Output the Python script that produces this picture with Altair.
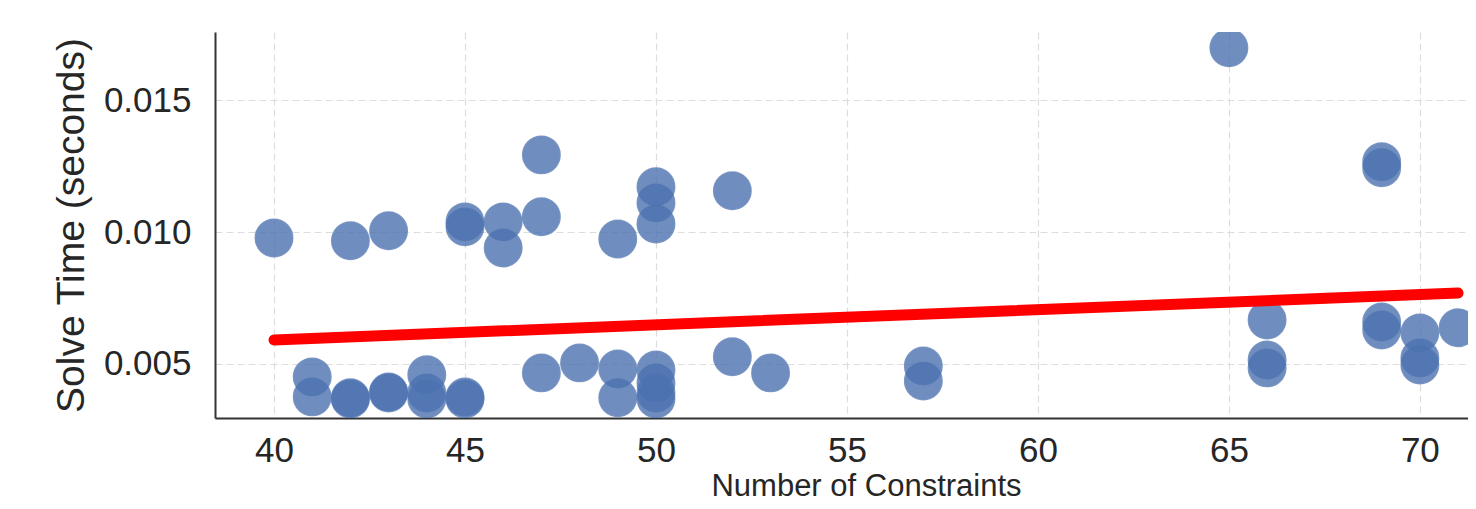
import altair as alt
import pandas as pd

# Scatter data (Number of Constraints, Solve Time in seconds)
constraints = [40, 41, 41, 42, 42, 42, 43, 43, 43, 44, 44, 44, 45, 45, 45, 45,
               46, 46, 47, 47, 47, 48, 49, 49, 49, 50, 50, 50, 50, 50, 50, 50,
               52, 52, 53, 57, 57, 65, 66, 66, 66, 69, 69, 69, 69, 70, 70, 70, 71]
solve_time = [0.00978, 0.00451, 0.00375, 0.00967, 0.00372, 0.00367, 0.01005, 0.00394, 0.00390,
              0.00459, 0.00390, 0.00367, 0.01039, 0.01020, 0.00375, 0.00367,
              0.01039, 0.00940, 0.01293, 0.01058, 0.00466, 0.00504, 0.00974, 0.00481, 0.00372,
              0.01172, 0.01111, 0.01031, 0.00477, 0.00428, 0.00390, 0.00367,
              0.01157, 0.00527, 0.00466, 0.00492, 0.00435, 0.01699, 0.00667, 0.00515, 0.00485,
              0.01267, 0.01244, 0.00659, 0.00629, 0.00618, 0.00523, 0.00496, 0.00637]

# Regression line endpoints
fit_x = [40, 71]
fit_y = [0.00591, 0.00769]

x_ticks = [40, 45, 50, 55, 60, 65, 70]
y_ticks = [0.005, 0.010, 0.015]

pts = pd.DataFrame({"x": constraints, "y": solve_time})
fit = pd.DataFrame({"x": fit_x, "y": fit_y})

xscale = alt.Scale(domain=[38.455, 71.26], nice=False, zero=False)
yscale = alt.Scale(domain=[0.00295, 0.01759], nice=False, zero=False)

FONT = "Liberation Sans"

xaxis = alt.Axis(values=x_ticks, format="d", title="Number of Constraints",
                 grid=True, gridDash=[7, 4], gridColor="#dddddd", gridWidth=1.2,
                 ticks=False, tickSize=0, labelPadding=15,
                 labelFont=FONT, labelFontSize=35, labelColor="#262626",
                 titleFont=FONT, titleFontSize=31, titleColor="#262626",
                 titleFontWeight="normal", titleX=651, titleY=77,
                 titleBaseline="alphabetic",
                 domainColor="#333333", domainWidth=2)
yaxis = alt.Axis(values=y_ticks, format=".3f", title="Solve Time (seconds)",
                 grid=True, gridDash=[7, 4], gridColor="#dddddd", gridWidth=1.2,
                 ticks=False, tickSize=0, labelPadding=24,
                 labelFont=FONT, labelFontSize=35, labelColor="#262626",
                 titleFont=FONT, titleFontSize=39, titleColor="#262626",
                 titleFontWeight="normal", titlePadding=12,
                 domainColor="#333333", domainWidth=2)

points = alt.Chart(pts).mark_circle(
    size=1400, color="#4c72b0", opacity=0.8, stroke="#4c72b0",
    strokeWidth=1.5, strokeOpacity=0.9, clip=True
).encode(
    x=alt.X("x:Q", scale=xscale, axis=xaxis),
    y=alt.Y("y:Q", scale=yscale, axis=yaxis),
)

line = alt.Chart(fit).mark_line(
    color="#ff0000", strokeWidth=11, strokeCap="round", clip=True
).encode(
    x=alt.X("x:Q", scale=xscale),
    y=alt.Y("y:Q", scale=yscale),
)

chart = alt.layer(points, line).properties(
    width=1253, height=386,
    autosize=alt.AutoSizeParams(type="none"),
    padding={"left": 207, "top": 24, "right": 0, "bottom": 83},
    background="white",
).configure_view(stroke=None)

chart.save("out.html", embed_options={"renderer": "svg", "actions": False})
